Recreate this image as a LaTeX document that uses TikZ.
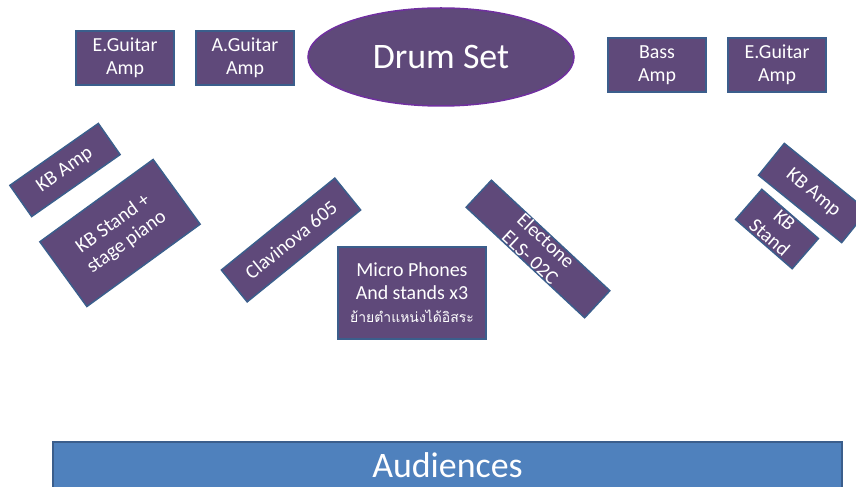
\documentclass[tikz,border=0pt]{standalone}
\usepackage{fontspec}
\setmainfont{Carlito}
\newfontfamily\thaifont[Script=Thai]{Loma}
\usepackage{tikz}
\usetikzlibrary{shapes.geometric}

\definecolor{gearfill}{HTML}{5F497A}
\definecolor{gearline}{HTML}{3B5E8C}
\definecolor{drumline}{HTML}{7030A0}
\definecolor{crowdfill}{HTML}{4F81BD}

\begin{document}
\begin{tikzpicture}[x=1bp, y=-1bp,
  gear/.style={draw=gearline, line width=1.5bp, fill=gearfill, rectangle, inner sep=0pt,
    align=center, text=white, font=\fontsize{20}{23}\selectfont},
  amp/.style={gear, minimum width=98bp, minimum height=54bp}]
\useasboundingbox (0,0) rectangle (856,487);

% back line
\node[amp] (egampl) at (125,58) {E.Guitar\\Amp};
\node[amp] (agamp) at (245,58) {A.Guitar\\Amp};
\node[ellipse, draw=drumline, line width=1.5bp, fill=gearfill, inner sep=0pt,
  minimum width=266bp, minimum height=98bp, text=white,
  font=\fontsize{36}{40}\selectfont] (drums) at (441,57) {Drum Set};
\node[amp] (bassamp) at (657,65) {Bass\\Amp};
\node[amp] (egampr) at (777,65) {E.Guitar\\Amp};

% keyboards left
\node[gear, rotate=35, minimum width=108bp, minimum height=38bp] (kbampl) at (65,170) {KB Amp};
\node[gear, rotate=36, minimum width=140bp, minimum height=80bp] (kbstandl) at (120,233)
{KB Stand +\\stage piano};
\node[gear, rotate=39, minimum width=146bp, minimum height=41bp] (clavinova) at (291,240) {Clavinova 605};

% front
\node[gear, minimum width=148bp, minimum height=92bp] (mics) at (412,293)
{Micro Phones\\And stands x3\\{\thaifont\fontsize{14}{16}\selectfont ย้ายตำแหน่งได้อิสระ}};
% text runs over the box edges
\node[gear, rotate=-43, minimum width=162bp, minimum height=37bp] (electone) at (538,249)
{\smash{\raisebox{-7bp}{\begin{tabular}{@{}c@{}}Electone\\ELS- 02C\end{tabular}}}};

% keyboards right
\node[gear, rotate=-39, minimum width=107bp, minimum height=41bp] (kbampr) at (813,193) {KB Amp};
\node[gear, rotate=-41, minimum width=75bp, minimum height=40bp] (kbstandr) at (777,229) {KB\\Stand};

% audience
\node[draw=gearline, line width=1.5bp, fill=crowdfill, rectangle, inner sep=0pt,
  minimum width=789bp, minimum height=46bp, text=white,
  font=\fontsize{36}{40}\selectfont] (crowd) at (447.5,465) {Audiences};
\end{tikzpicture}
\end{document}
